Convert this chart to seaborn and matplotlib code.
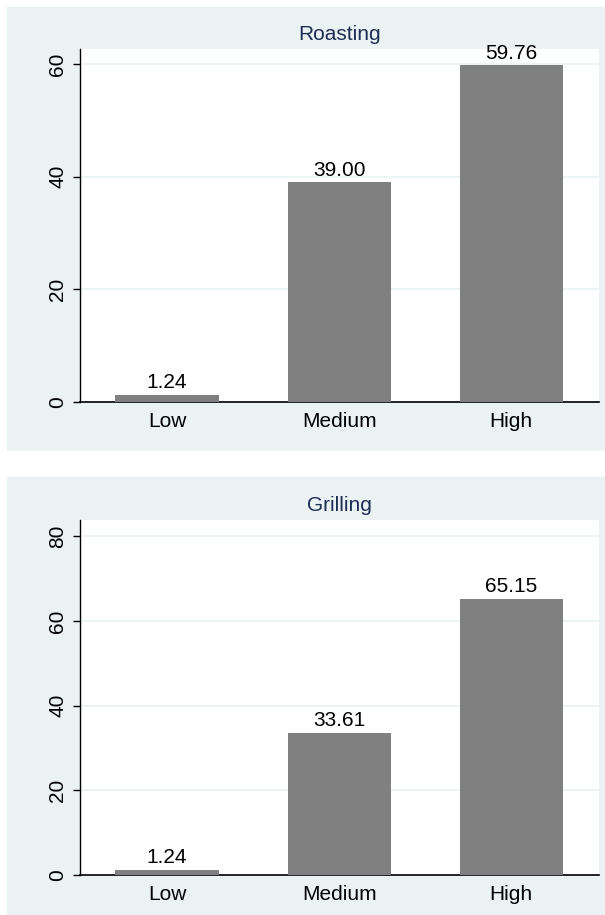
import matplotlib
matplotlib.use("Agg")
import matplotlib.pyplot as plt
import seaborn as sns
import pandas as pd
from matplotlib.patches import Rectangle

# Données
categories = ["Low", "Medium", "High"]
roasting_values = [1.24, 39.00, 59.76]
grilling_values = [1.24, 33.61, 65.15]
panel_titles = ["Roasting", "Grilling"]
roasting_ticks = [0, 20, 40, 60]
grilling_ticks = [0, 20, 40, 60, 80]

BG = "#eaf2f3"
BAR = "#808080"
TITLE = "#1e2d53"

sns.set_style("white")
plt.rcParams["font.family"] = ["Liberation Sans", "DejaVu Sans"]
plt.rcParams["font.size"] = 15
plt.rcParams["text.color"] = "black"
plt.rcParams["xtick.color"] = "black"
plt.rcParams["ytick.color"] = "black"

fig = plt.figure(figsize=(6.05, 9.15), dpi=100)
fig.patch.set_facecolor("white")

# Fonds des deux panneaux (style Stata), sous les axes
fig.patches.append(Rectangle((7 / 605, 1 - 449 / 915), 1, 442 / 915,
                             transform=fig.transFigure, color=BG, zorder=-5))
fig.patches.append(Rectangle((7 / 605, 0), 1, 438 / 915,
                             transform=fig.transFigure, color=BG, zorder=-5))

ax1 = fig.add_axes([80 / 605, 1 - 402 / 915, 519 / 605, 353 / 915])
ax2 = fig.add_axes([80 / 605, 1 - 875 / 915, 519 / 605, 355 / 915])

panels = [
    (ax1, roasting_values, roasting_ticks, 62.67, panel_titles[0]),
    (ax2, grilling_values, grilling_ticks, 83.8, panel_titles[1]),
]

for ax, values, ticks, ytop, title in panels:
    ax.set_zorder(2)
    df = pd.DataFrame({"cat": categories, "val": values})
    sns.barplot(data=df, x="cat", y="val", color=BAR, saturation=1,
                width=0.6, linewidth=0, ax=ax, zorder=3)
    ax.set_facecolor("white")
    ax.set_xlim(-0.506, 2.51)
    ax.set_ylim(0, ytop)
    ax.set_yticks(ticks)
    ax.set_yticklabels([str(t) for t in ticks], rotation=90, va="center")
    ax.set_xlabel("")
    ax.set_ylabel("")
    # Lignes de grille claires (sauf à zéro)
    for t in ticks[1:]:
        ax.axhline(t, color=BG, lw=1.2, zorder=1)
    ax.tick_params(axis="x", length=0, pad=7, labelsize=15, colors="black")
    ax.tick_params(axis="y", length=5, width=1, pad=4, labelsize=15,
                   left=True, colors="black")
    for side in ["top", "right"]:
        ax.spines[side].set_visible(False)
    ax.spines["left"].set_color("black")
    ax.spines["bottom"].set_color("black")
    ax.spines["left"].set_linewidth(1.0)
    ax.spines["bottom"].set_linewidth(1.2)
    ax.set_title(title, color=TITLE, fontsize=15, pad=6.5)
    ax.bar_label(ax.containers[0], fmt="%.2f", padding=2, fontsize=15,
                 color="black")

plt.savefig("out.png", dpi=100)
plt.close()
